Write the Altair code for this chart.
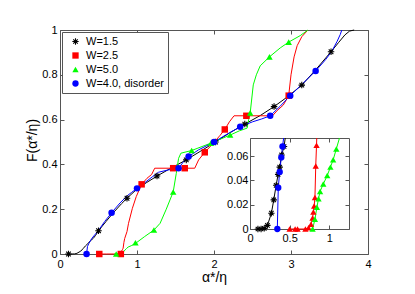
import altair as alt
import pandas as pd
import numpy as np

SERIES = ["W=1.5", "W=2.5", "W=5.0", "W=4.0, disorder"]
COLORS = ["#000000", "#ff0000", "#00ff00", "#0000ff"]

# ---------------- main plot: curves ----------------
k_x = [0.11, 0.15, 0.19, 0.22, 0.27, 0.30, 0.33, 0.375, 0.40, 0.43, 0.46, 0.50, 0.60, 0.70, 0.80, 0.87,
       1.00, 1.12, 1.26, 1.45, 1.64, 1.83, 2.02, 2.20, 2.40, 2.60, 2.78, 2.96, 3.14, 3.32, 3.52,
       3.62, 3.70, 3.76, 3.82]
k_y = [0.000, 0.000, 0.0005, 0.003, 0.013, 0.024, 0.036, 0.051, 0.061, 0.069, 0.082, 0.104, 0.146,
       0.187, 0.225, 0.249, 0.290, 0.318, 0.348, 0.385, 0.420, 0.460, 0.500, 0.540, 0.580, 0.618,
       0.658, 0.703, 0.754, 0.822, 0.903, 0.945, 0.978, 0.995, 1.000]

r_x = [0.51, 0.57, 0.60, 0.70, 0.74, 0.77, 0.79, 0.80, 0.81, 0.82, 0.83, 0.84, 0.87, 0.89, 0.94, 0.99,
       1.06, 1.13, 1.19, 1.23, 1.47, 1.62, 1.75, 1.80, 1.88, 1.99, 2.08, 2.14, 2.20, 2.26, 2.42,
       2.60, 2.76, 2.82, 2.90, 2.97, 3.00, 3.04, 3.08, 3.14, 3.22]
r_y = [0.000, 0.000, 0.000, 0.000, 0.001, 0.004, 0.009, 0.014, 0.019, 0.026, 0.052, 0.069, 0.100,
       0.137, 0.204, 0.256, 0.311, 0.338, 0.355, 0.383, 0.383, 0.383, 0.383, 0.420, 0.454, 0.494,
       0.530, 0.556, 0.590, 0.617, 0.617, 0.617, 0.617, 0.640, 0.665, 0.707, 0.800, 0.880, 0.930,
       0.970, 1.000]

g_x = [0.71, 0.76, 0.80, 0.82, 0.845, 0.865, 0.885, 0.925, 0.975, 1.10, 1.22, 1.30, 1.38, 1.47,
       1.51, 1.54, 1.57, 1.71, 1.96, 2.21, 2.33, 2.43, 2.45, 2.47, 2.51, 2.55, 2.60, 2.72, 2.86,
       2.97, 3.12, 3.18, 3.22]
g_y = [0.000, 0.000, 0.002, 0.008, 0.018, 0.025, 0.031, 0.037, 0.046, 0.078, 0.107, 0.137, 0.200,
       0.277, 0.360, 0.427, 0.450, 0.462, 0.495, 0.531, 0.550, 0.562, 0.600, 0.630, 0.755, 0.800,
       0.840, 0.880, 0.920, 0.946, 0.975, 0.990, 1.000]

b_x = [0.345, 0.357, 0.375, 0.395, 0.41, 0.45, 0.50, 0.58, 0.67, 0.78, 0.88, 0.93, 1.00, 1.10,
       1.20, 1.28, 1.40, 1.54, 1.60, 1.67, 1.80, 2.00, 2.17, 2.34, 2.50, 2.62, 2.73, 2.86, 2.99,
       3.15, 3.32, 3.45, 3.53, 3.60, 3.64, 3.66]
b_y = [0.000, 0.034, 0.047, 0.059, 0.068, 0.085, 0.105, 0.145, 0.184, 0.228, 0.262, 0.275, 0.293,
       0.318, 0.345, 0.365, 0.375, 0.383, 0.410, 0.435, 0.465, 0.500, 0.535, 0.568, 0.590, 0.603,
       0.617, 0.660, 0.707, 0.760, 0.817, 0.868, 0.905, 0.950, 0.980, 1.000]

# ---------------- main plot: marker positions ----------------
km_x = [0.11, 0.50, 0.87, 1.26, 1.64, 2.02, 2.40, 2.78, 3.14, 3.52]
km_y = [0.000, 0.104, 0.249, 0.348, 0.420, 0.500, 0.580, 0.658, 0.754, 0.903]
rm_x = [0.51, 0.79, 1.06, 1.47, 1.62, 1.88, 2.14, 2.42, 2.97]
rm_y = [0.000, 0.000, 0.311, 0.383, 0.383, 0.454, 0.556, 0.617, 0.707]
gm_x = [0.73, 0.98, 1.22, 1.47, 1.71, 1.96, 2.21, 2.47, 2.72, 2.97]
gm_y = [0.000, 0.050, 0.107, 0.277, 0.462, 0.495, 0.531, 0.630, 0.880, 0.946]
bm_x = [0.345, 0.67, 1.00, 1.54, 1.67, 2.00, 2.34, 2.73, 2.99, 3.32]
bm_y = [0.000, 0.184, 0.293, 0.383, 0.435, 0.500, 0.568, 0.617, 0.707, 0.817]

# ---------------- inset ----------------
ik_x = [0.10, 0.14, 0.18, 0.22, 0.27, 0.30, 0.33, 0.355, 0.375, 0.40, 0.43, 0.445]
ik_y = [0.000, 0.000, 0.0005, 0.003, 0.013, 0.024, 0.036, 0.045, 0.051, 0.061, 0.068, 0.075]
ib_x = [0.345, 0.357, 0.375, 0.395, 0.41, 0.425]
ib_y = [0.000, 0.034, 0.047, 0.059, 0.068, 0.075]
ir_x = [0.50, 0.57, 0.60, 0.70, 0.74, 0.77, 0.79, 0.80, 0.81, 0.82, 0.83, 0.84, 0.843]
ir_y = [0.000, 0.000, 0.000, 0.000, 0.001, 0.004, 0.009, 0.014, 0.019, 0.026, 0.052, 0.069, 0.075]
ig_x = [0.79, 0.82, 0.845, 0.865, 0.885, 0.925, 0.975, 1.015, 1.05, 1.09, 1.13]
ig_y = [0.000, 0.008, 0.018, 0.025, 0.031, 0.037, 0.044, 0.051, 0.057, 0.066, 0.075]

MAIN_XT = [0, 1, 2, 3, 4]
MAIN_YT = [0, 0.2, 0.4, 0.6, 0.8, 1]
INS_XT = [0, 0.5, 1]
INS_YT = [0, 0.02, 0.04, 0.06]

FONT = "Liberation Sans"
AX = "#555555"


def aster_path(w=0.17):
    parts = []
    for ang in (0, 45, 90, 135):
        t = np.radians(ang)
        d = np.array([np.cos(t), np.sin(t)])
        n = np.array([-np.sin(t), np.cos(t)])
        pts = [-d - w * n, d - w * n, d + w * n, -d + w * n]
        parts.append("M" + "L".join(f"{p[0]:.3f},{p[1]:.3f}" for p in pts) + "Z")
    return "".join(parts)


ASTER = aster_path()
SHAPES = [ASTER, "square", "triangle-up", "circle"]


def frame(x, y, s=None):
    d = pd.DataFrame({"x": x, "y": y, "i": list(range(len(x)))})
    if s is not None:
        d["series"] = s
    return d


xs = alt.Scale(domain=[0, 4], nice=False, zero=False)
ys = alt.Scale(domain=[0, 1], nice=False, zero=False)
ixs = alt.Scale(domain=[0, 1.25], range=[190, 289], nice=False, zero=False)
iys = alt.Scale(domain=[0, 0.075], range=[199, 108], nice=False, zero=False)


def line(df, color, xsc, ysc, xaxis=None, yaxis=None):
    return alt.Chart(df).mark_line(color=color, strokeWidth=1).encode(
        x=alt.X("x:Q", scale=xsc, axis=xaxis),
        y=alt.Y("y:Q", scale=ysc, axis=yaxis),
        order=alt.Order("i:Q"),
    )


def pts(df, color, shape, xsc, ysc):
    return alt.Chart(df).mark_point(filled=True, color=color, shape=shape, size=40, opacity=1).encode(
        x=alt.X("x:Q", scale=xsc, axis=None),
        y=alt.Y("y:Q", scale=ysc, axis=None),
    )


# ---- main axes ----
ax_bottom = alt.Axis(orient="bottom", values=MAIN_XT, format="~g", offset=-4, tickSize=4,
                     domain=False, labelPadding=4, labelFlush=False, title="α*/η",
                     titleY=20, titleBaseline="top")
ax_left = alt.Axis(orient="left", values=MAIN_YT, format="~g", offset=-4, tickSize=4,
                   domain=False, labelPadding=3, title="F(α*/η)", titleX=-28, titleY=110,
                   titleBaseline="alphabetic", titleAngle=270)
ax_top = alt.Axis(orient="top", values=MAIN_XT, offset=-4, tickSize=4, domain=False,
                  labels=False, title=None)
ax_right = alt.Axis(orient="right", values=MAIN_YT, offset=-4, tickSize=4, domain=False,
                    labels=False, title=None)

LEG = alt.Legend(title=None, orient="top-left", offset=2, padding=4, symbolOffset=4,
                 strokeColor=AX, fillColor="white", labelFont=FONT, labelFontSize=11,
                 labelColor="black", rowPadding=2, labelOffset=5, symbolSize=40,
                 symbolStrokeWidth=0, cornerRadius=0)

marks = pd.concat([frame(km_x, km_y, SERIES[0]), frame(rm_x, rm_y, SERIES[1]),
                   frame(gm_x, gm_y, SERIES[2]), frame(bm_x, bm_y, SERIES[3])],
                  ignore_index=True)

main_points = alt.Chart(marks).mark_point(filled=True, size=42, opacity=1).encode(
    x=alt.X("x:Q", scale=xs, axis=None),
    y=alt.Y("y:Q", scale=ys, axis=None),
    color=alt.Color("series:N", scale=alt.Scale(domain=SERIES, range=COLORS), legend=LEG),
    shape=alt.Shape("series:N", scale=alt.Scale(domain=SERIES, range=SHAPES), legend=LEG),
)

main = alt.layer(
    line(frame(k_x, k_y), COLORS[0], xs, ys, ax_bottom, ax_left),
    line(frame(r_x, r_y), COLORS[1], xs, ys, ax_top, ax_right),
    line(frame(g_x, g_y), COLORS[2], xs, ys),
    line(frame(b_x, b_y), COLORS[3], xs, ys),
    main_points,
).resolve_axis(x="independent", y="independent")

# ---- inset axes ----
i_bot_lab = alt.Axis(orient="bottom", values=INS_XT, format="~g", offset=-29, tickSize=4,
                     domain=False, labelPadding=3, labelFlush=False, title=None)
i_left_lab = alt.Axis(orient="left", values=INS_YT, format="~g", offset=-194, tickSize=4,
                      domain=False, labelPadding=2, title=None)
i_bot_dom = alt.Axis(orient="bottom", offset=-25, ticks=False, labels=False, domain=True,
                     title=None)
i_left_dom = alt.Axis(orient="left", offset=-190, ticks=False, labels=False, domain=True,
                      title=None)
i_top_dom = alt.Axis(orient="top", offset=-108, ticks=False, labels=False, domain=True,
                     title=None)
i_right_dom = alt.Axis(orient="right", offset=-19, ticks=False, labels=False, domain=True,
                       title=None)
i_top_tk = alt.Axis(orient="top", values=INS_XT, offset=-112, tickSize=4, labels=False,
                    domain=False, title=None)
i_right_tk = alt.Axis(orient="right", values=INS_YT, offset=-23, tickSize=4, labels=False,
                      domain=False, title=None)

inset = alt.layer(
    line(frame(ik_x, ik_y), COLORS[0], ixs, iys, i_bot_lab, i_left_lab),
    line(frame(ir_x, ir_y), COLORS[1], ixs, iys, i_bot_dom, i_left_dom),
    line(frame(ig_x, ig_y), COLORS[2], ixs, iys, i_top_dom, i_right_dom),
    line(frame(ib_x, ib_y), COLORS[3], ixs, iys, i_top_tk, i_right_tk),
    pts(frame(ik_x[:-1], ik_y[:-1]), COLORS[0], ASTER, ixs, iys),
    pts(frame(ir_x[:-1], ir_y[:-1]), COLORS[1], "triangle-up", ixs, iys),
    pts(frame(ig_x[:-1], ig_y[:-1]), COLORS[2], "triangle-up", ixs, iys),
    pts(frame(ib_x[:-1], ib_y[:-1]), COLORS[3], "circle", ixs, iys),
).resolve_axis(x="independent", y="independent")

chart = alt.layer(main, inset).resolve_scale(x="independent", y="independent").properties(
    width=308, height=224,
    padding={"left": 52, "top": 22, "right": 30, "bottom": 32},
    autosize=alt.AutoSizeParams(type="none"),
).configure_view(stroke=AX, strokeWidth=1).configure_axis(
    labelFont=FONT, titleFont=FONT, labelFontSize=11, titleFontSize=14, labelColor="black",
    titleColor="black", tickColor=AX, domainColor=AX, grid=False, titleFontWeight="normal",
    tickWidth=1, domainWidth=1,
)

chart.save("out.html", embed_options={"renderer": "svg", "actions": False})
